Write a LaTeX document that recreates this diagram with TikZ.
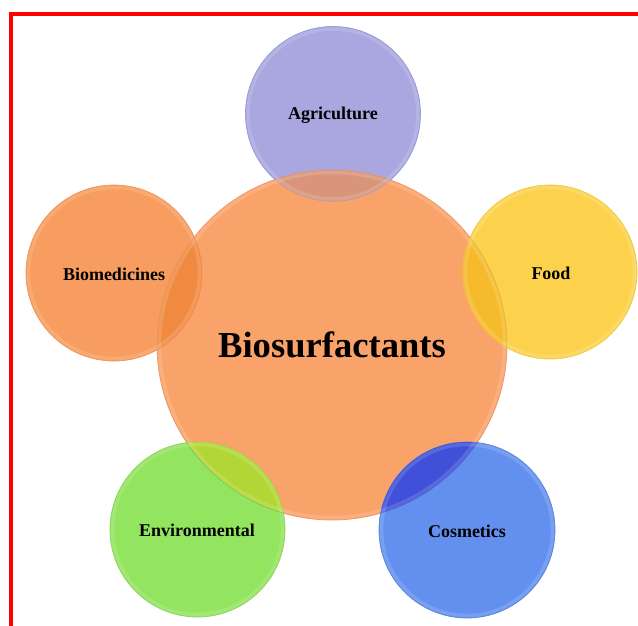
\documentclass[tikz,border=0pt]{standalone}
\usepackage{fontspec}
\setmainfont{Liberation Serif}
\begin{document}
\definecolor{coreFill}{RGB}{249,163,107}
\definecolor{coreEdge}{RGB}{238,150,96}
\definecolor{agriFill}{RGB}{169,166,224}
\definecolor{agriEdge}{RGB}{150,160,215}
\definecolor{foodFill}{RGB}{252,210,76}
\definecolor{foodEdge}{RGB}{240,200,66}
\definecolor{cosmFill}{RGB}{99,144,239}
\definecolor{cosmEdge}{RGB}{88,130,222}
\definecolor{envFill}{RGB}{147,228,95}
\definecolor{envEdge}{RGB}{134,214,88}
\definecolor{bioFill}{RGB}{247,157,95}
\definecolor{bioEdge}{RGB}{238,148,88}
% colours where a satellite overlaps the core circle
\definecolor{agriMix}{RGB}{216,149,122}
\definecolor{foodMix}{RGB}{245,187,44}
\definecolor{cosmMix}{RGB}{64,80,216}
\definecolor{envMix}{RGB}{178,214,54}
\definecolor{bioMix}{RGB}{240,138,64}
\begin{tikzpicture}[x=1pt,y=-1pt,
  disc/.style={fill=#1Fill, draw=#1Edge, line width=0.7pt},
  bevel/.style={draw=white, draw opacity=0.14, line width=3.5pt},
  label/.style={font=\bfseries\fontsize{18}{20}\selectfont, text=black, inner sep=0pt},
  corelabel/.style={font=\bfseries\fontsize{36.6}{40}\selectfont, text=black, inner sep=0pt},
  frame/.style={draw=red, line width=3.8pt, line join=miter}]
\useasboundingbox (0,0) rectangle (638,625);

% centres of the circles
\coordinate (core) at (332,345);
\coordinate (agri) at (333,114);
\coordinate (food) at (550,272);
\coordinate (cosm) at (467,530);
\coordinate (env)  at (197.5,529.5);
\coordinate (bio)  at (114,273);

% outer frame (runs off the right and bottom edges)
\coordinate (frameBL) at (11,640);
\coordinate (frameTL) at (11,14);
\coordinate (frameTR) at (650,14);
\draw[frame] (frameBL) -- (frameTL) -- (frameTR);

% discs
\path[disc=agri] (agri) circle (87.5);
\path[disc=core] (core) circle (175);
\path[disc=bio]  (bio)  circle (88);
\path[disc=food] (food) circle (87);
\path[disc=env]  (env)  circle (87.5);
\path[disc=cosm] (cosm) circle (88);

% overlap lenses
\begin{scope}
  \clip (agri) circle (87.5);
  \fill[agriMix] (core) circle (175);
  \draw[agriEdge, line width=0.7pt] (agri) circle (87.5);
\end{scope}
\begin{scope}
  \clip (bio) circle (88);
  \fill[bioMix] (core) circle (175);
  \draw[coreEdge, line width=0.7pt] (core) circle (175);
\end{scope}
\begin{scope}
  \clip (food) circle (87);
  \fill[foodMix] (core) circle (175);
  \draw[foodEdge!90!black, line width=0.5pt] (core) circle (175);
\end{scope}
\begin{scope}
  \clip (env) circle (87.5);
  \fill[envMix] (core) circle (175);
  \draw[envEdge!90!black, line width=0.5pt] (core) circle (175);
\end{scope}
\begin{scope}
  \clip (cosm) circle (88);
  \fill[cosmMix] (core) circle (175);
  \draw[cosmEdge!90!black, line width=0.5pt] (core) circle (175);
\end{scope}

% soft inner rims
\path[bevel] (agri) circle (85);
\path[bevel] (core) circle (172.5);
\path[bevel] (bio)  circle (85.5);
\path[bevel] (food) circle (84.5);
\path[bevel] (env)  circle (85);
\path[bevel] (cosm) circle (85.5);

% texts
\node[corelabel] (coreText) at (core) {Biosurfactants};
\node[label] (agriText) at (333,115) {Agriculture};
\node[label] (foodText) at (551,273) {Food};
\node[label] (cosmText) at (467,531) {Cosmetics};
\node[label] (envText)  at (197,530) {Environmental};
\node[label] (bioText)  at (114,274) {Biomedicines};
\end{tikzpicture}
\end{document}
